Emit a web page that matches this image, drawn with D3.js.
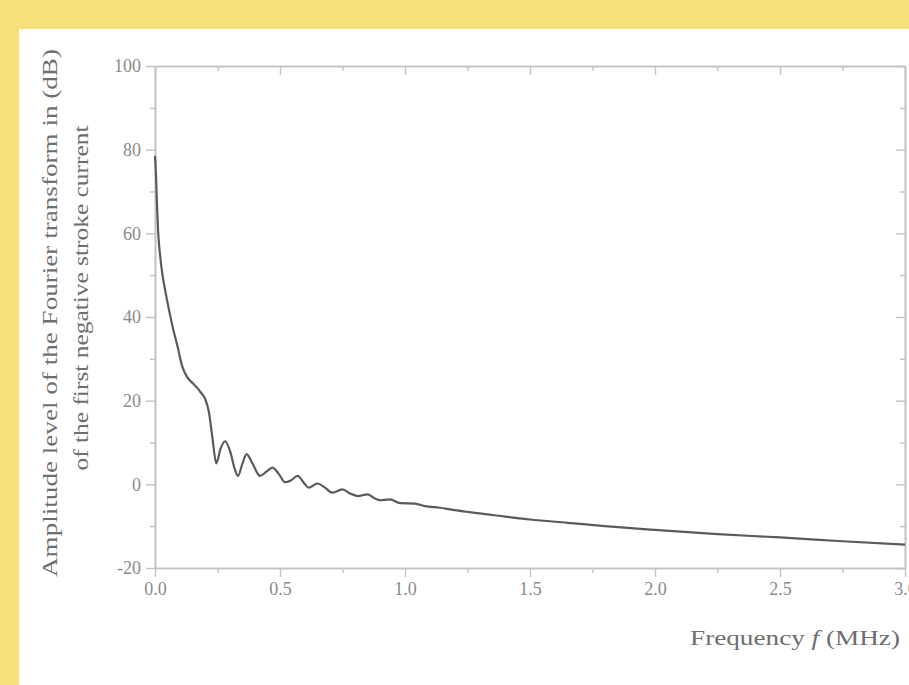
<!DOCTYPE html>
<html>
<head>
<meta charset="utf-8">
<script src="https://cdn.jsdelivr.net/npm/d3@7"></script>
<style>
  html, body { margin: 0; padding: 0; overflow: hidden; background: #F7DF7B; }
  svg { display: block; }
  text { font-family: "Liberation Serif", "Times New Roman", "DejaVu Serif", serif; }
</style>
</head>
<body>
<svg id="chart" width="909" height="685"></svg>
<script>
// Spectrum of the first negative return-stroke current (amplitude in dB vs frequency in MHz)
const freqMHz = [0.000, 0.004, 0.008, 0.012, 0.016, 0.020, 0.030, 0.040, 0.055, 0.070, 0.090,
  0.110, 0.130, 0.150, 0.170, 0.185, 0.200, 0.215, 0.230, 0.245, 0.262, 0.280, 0.300,
  0.320, 0.332, 0.350, 0.366, 0.390, 0.420, 0.445, 0.470, 0.495, 0.520, 0.545, 0.570,
  0.600, 0.615, 0.650, 0.680, 0.710, 0.750, 0.780, 0.810, 0.850, 0.880, 0.900, 0.940,
  0.980, 1.040, 1.080, 1.140, 1.180, 1.250, 1.400, 1.500, 1.650, 1.800, 2.000, 2.250,
  2.500, 2.750, 3.000];
const levelDB = [78.5, 74.0, 67.0, 61.0, 57.5, 55.0, 50.0, 46.6, 42.0, 37.8, 33.0,
  28.0, 25.5, 24.2, 23.0, 21.8, 20.5, 17.5, 11.0, 5.0, 8.5, 10.3, 8.0,
  3.5, 2.0, 5.0, 7.2, 5.0, 2.0, 3.0, 4.0, 2.5, 0.5, 1.0, 2.0,
  0.0, -0.8, 0.2, -0.8, -2.0, -1.2, -2.2, -2.8, -2.4, -3.4, -3.8, -3.6,
  -4.5, -4.6, -5.2, -5.6, -6.0, -6.6, -7.7, -8.4, -9.2, -10.0, -10.9, -11.9,
  -12.7, -13.6, -14.4];

const xMajorTicks = [0.0, 0.5, 1.0, 1.5, 2.0, 2.5, 3.0];
const xMinorTicks = [0.25, 0.75, 1.25, 1.75, 2.25, 2.75];
const yMajorTicks = [-20, 0, 20, 40, 60, 80, 100];
const yMinorTicks = [-10, 10, 30, 50, 70, 90];

const yTitleLines = ["Amplitude level of the Fourier transform in (dB)",
                     "of the first negative stroke current"];

const svg = d3.select("#chart");
const W = 909, H = 685;

// page frame: yellow band with white card
svg.append("rect").attr("width", W).attr("height", H).attr("fill", "#F7DF7B");
svg.append("rect").attr("x", 19).attr("y", 29).attr("width", W - 19).attr("height", H - 29).attr("fill", "#ffffff");

const plot = { left: 155, right: 905, top: 66, bottom: 568 };
const x = d3.scaleLinear().domain([0, 3]).range([plot.left, plot.right]);
const y = d3.scaleLinear().domain([-20, 100]).range([plot.bottom, plot.top]);

const axisColor = "#c2c2c2";
const labelColor = "#8a8a8a";

function styleAxis(g) {
  g.select(".domain").attr("stroke", axisColor).attr("stroke-width", 1.6);
  g.selectAll(".tick line").attr("stroke", axisColor).attr("stroke-width", 1.4);
  g.selectAll(".tick text").attr("fill", labelColor).style("font-size", "18px");
}

// bottom axis (labelled)
svg.append("g").attr("transform", `translate(0,${plot.bottom})`)
  .call(d3.axisBottom(x).tickValues(xMajorTicks).tickSize(9).tickSizeOuter(0)
    .tickPadding(5).tickFormat(d3.format(".1f")))
  .call(styleAxis);
svg.append("g").attr("transform", `translate(0,${plot.bottom})`)
  .call(d3.axisBottom(x).tickValues(xMinorTicks).tickSize(5).tickSizeOuter(0).tickFormat(""))
  .call(styleAxis);

// top axis (ticks only)
svg.append("g").attr("transform", `translate(0,${plot.top})`)
  .call(d3.axisBottom(x).tickValues(xMajorTicks).tickSize(9).tickSizeOuter(0).tickFormat(""))
  .call(styleAxis);
svg.append("g").attr("transform", `translate(0,${plot.top})`)
  .call(d3.axisBottom(x).tickValues(xMinorTicks).tickSize(5).tickSizeOuter(0).tickFormat(""))
  .call(styleAxis);

// left axis (labelled)
svg.append("g").attr("transform", `translate(${plot.left},0)`)
  .call(d3.axisLeft(y).tickValues(yMajorTicks).tickSize(9).tickSizeOuter(0)
    .tickPadding(5).tickFormat(d => String(d)))
  .call(styleAxis);
svg.append("g").attr("transform", `translate(${plot.left},0)`)
  .call(d3.axisLeft(y).tickValues(yMinorTicks).tickSize(5).tickSizeOuter(0).tickFormat(""))
  .call(styleAxis);

// right axis (ticks only)
svg.append("g").attr("transform", `translate(${plot.right},0)`)
  .call(d3.axisLeft(y).tickValues(yMajorTicks).tickSize(9).tickSizeOuter(0).tickFormat(""))
  .call(styleAxis);
svg.append("g").attr("transform", `translate(${plot.right},0)`)
  .call(d3.axisLeft(y).tickValues(yMinorTicks).tickSize(5).tickSizeOuter(0).tickFormat(""))
  .call(styleAxis);

// spectrum curve
const pts = freqMHz.map((f, i) => [f, levelDB[i]]);
svg.append("path")
  .datum(pts)
  .attr("fill", "none")
  .attr("stroke", "#5a5a5a")
  .attr("stroke-width", 2.2)
  .attr("stroke-linejoin", "round")
  .attr("d", d3.line().x(d => x(d[0])).y(d => y(d[1])).curve(d3.curveMonotoneX));

// y-axis title, two rotated lines
const yTitleCx = [50, 81];
const yTitleLen = [528, 345];
yTitleLines.forEach((t, i) => {
  svg.append("text")
    .attr("transform", `translate(${yTitleCx[i] + 7},${i === 0 ? 313 : 298}) rotate(-90)`)
    .attr("text-anchor", "middle")
    .attr("fill", "#6e6e6e")
    .style("font-size", "21px")
    .attr("textLength", yTitleLen[i])
    .attr("lengthAdjust", "spacingAndGlyphs")
    .text(t);
});

// x-axis title
const xt = svg.append("text")
  .attr("x", 690).attr("y", 645)
  .attr("fill", "#6e6e6e")
  .style("font-size", "21px")
  .attr("textLength", 210)
  .attr("lengthAdjust", "spacingAndGlyphs");
xt.append("tspan").text("Frequency ");
xt.append("tspan").style("font-style", "italic").text("f");
xt.append("tspan").text(" (MHz)");
</script>
</body>
</html>
